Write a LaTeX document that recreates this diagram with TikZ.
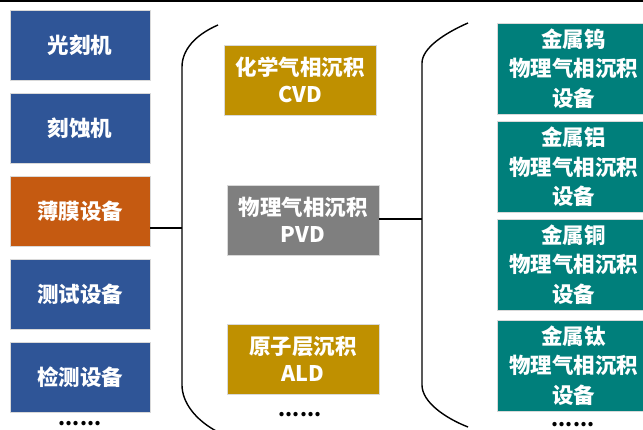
\documentclass[tikz,border=0pt]{standalone}
\usepackage{fontspec}
\setmainfont{Noto Sans CJK SC}
\definecolor{cblue}{HTML}{2F5597}
\definecolor{corange}{HTML}{C55A11}
\definecolor{cgold}{HTML}{BF9000}
\definecolor{cgray}{HTML}{7F7F7F}
\definecolor{cteal}{HTML}{007F7B}
\begin{document}
\begin{tikzpicture}[x=1pt,y=-1pt,
  box/.style={draw=white!85!black,line width=0.6pt,text=white,font=\bfseries\fontsize{21.5}{26}\selectfont,align=center,inner sep=0pt},
  lbox/.style={box,minimum width=140pt,minimum height=70pt},
  mbox/.style={box,minimum width=152pt,minimum height=70pt,font=\bfseries\fontsize{21.5}{27}\selectfont},
  rbox/.style={box,minimum width=153pt,minimum height=91pt,fill=cteal,font=\bfseries\fontsize{21.5}{29.5}\selectfont},
  brace/.style={line width=1.4pt,black},
  link/.style={line width=1.4pt,black},
  dots/.style={font=\bfseries\fontsize{20}{20}\selectfont,text=black,inner sep=0pt}]
\useasboundingbox (0,0) rectangle (643,430);
\clip (0,0) rectangle (643,430);
\fill[black] (0,0) rectangle (643,2);
% left column
\node[lbox,fill=cblue] (l1) at (80,45) {光刻机};
\node[lbox,fill=cblue] (l2) at (80,128) {刻蚀机};
\node[lbox,fill=corange] (l3) at (80,211) {薄膜设备};
\node[lbox,fill=cblue] (l4) at (80,294) {测试设备};
\node[lbox,fill=cblue] (l5) at (80,377) {检测设备};
\node[dots] (ld) at (80,424) {......};
% left brace
\draw[brace] (218,25) .. controls (195,35) and (182,50) .. (182,67) -- (182,385) .. controls (182,402) and (195,420) .. (218,432);
\coordinate (lb) at (182,228);
\draw[link] (l3.east |- lb) -- (lb);
% middle column
\node[mbox,fill=cgold] (m1) at (300,80) {化学气相沉积\\CVD};
\node[mbox,fill=cgray] (m2) at (303,220) {物理气相沉积\\PVD};
\node[mbox,fill=cgold] (m3) at (303,359) {原子层沉积\\ALD};
\node[dots] (md) at (300,415) {......};
% right brace
\draw[brace] (468,23) .. controls (445,33) and (422,48) .. (422,63) -- (422,385) .. controls (422,402) and (445,418) .. (468,427);
\coordinate (rb) at (422,219);
\draw[link] (m2.east |- rb) -- (rb);
% right column
\node[rbox] (r1) at (573.5,68.5) {金属钨\\物理气相沉积\\设备};
\node[rbox] (r2) at (573.5,167) {金属铝\\物理气相沉积\\设备};
\node[rbox] (r3) at (573.5,264.5) {金属铜\\物理气相沉积\\设备};
\node[rbox] (r4) at (573.5,365.5) {金属钛\\物理气相沉积\\设备};
\node[dots] (rd) at (573,425) {......};
\end{tikzpicture}
\end{document}
